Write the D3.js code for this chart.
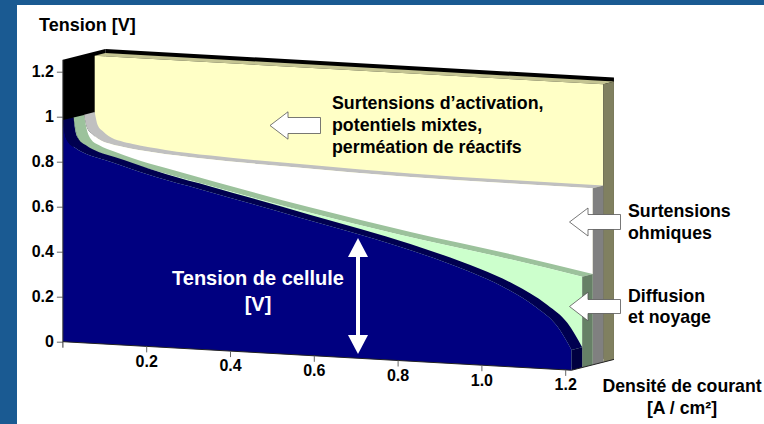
<!DOCTYPE html>
<html>
<head>
<meta charset="utf-8">
<script src="https://d3js.org/d3.v7.min.js"></script>
<style>
html, body { margin: 0; padding: 0; background: #fff; }
svg { display: block; }
text { font-family: "Liberation Sans", Arial, sans-serif; font-weight: bold; fill: #000; }
</style>
</head>
<body>
<div id="chart"></div>
<script>
// values
const xTicks = [0.2, 0.4, 0.6, 0.8, 1.0, 1.2];
const yTicks = [0, 0.2, 0.4, 0.6, 0.8, 1, 1.2];

const cellX = [0, 0.005, 0.012, 0.029, 0.06, 0.1, 0.141, 0.22, 0.327, 0.566, 0.804, 0.971, 1.05, 1.131, 1.179, 1.214];
const cellV = [0.985, 0.92, 0.89, 0.865, 0.837, 0.818, 0.797, 0.756, 0.712, 0.61, 0.506, 0.412, 0.354, 0.269, 0.194, 0.09];

const diffusionX = [0, 0.008, 0.016, 0.035, 0.075, 0.116, 0.195, 0.314, 0.541, 0.779, 1.018, 1.214];
const diffusionV = [0.984, 0.909, 0.879, 0.854, 0.827, 0.804, 0.768, 0.719, 0.629, 0.545, 0.471, 0.404];

const ohmicX = [0, 0.007, 0.019, 0.033, 0.062, 0.091, 0.169, 0.277, 0.516, 0.754, 0.993, 1.214];
const ohmicV = [0.985, 0.928, 0.902, 0.882, 0.862, 0.852, 0.834, 0.82, 0.803, 0.79, 0.786, 0.785];

const activationX = [0, 1.214];
const activationV = [1.235, 1.235];

const wallTop = 1.253;
const xEnd = 1.214;

// pseudo 3D: each layer is shifted back, the floor slopes down to the right
const depthX = 10.6;
const depthY = -2.7;
const xS = d3.scaleLinear().domain([0, 1.2]).range([62.9, 565.7]);
const yS = d3.scaleLinear().domain([0, 1.2]).range([341.7, 71.7]);
const slope = d3.scaleLinear().domain([0, 1.2]).range([0, 28.2]);

function project(x, v, layer) {
	return [xS(x) + layer * depthX, yS(v) + slope(x) + layer * depthY];
}

const line = d3.line().curve(d3.curveMonotoneX);
const svg = d3.select('#chart').append('svg').attr('width', 764).attr('height', 424);

svg.append('rect').attr('width', 764).attr('height', 424).attr('fill', '#fff');
svg.append('rect').attr('width', 764).attr('height', 5).attr('fill', '#1a5a92');
svg.append('rect').attr('width', 17).attr('height', 424).attr('fill', '#1a5a92');

function curvePts(xs, vs, layer) {
	return xs.map((x, i) => project(x, vs[i], layer));
}

function poly(pts, fill) {
	return svg.append('path')
		.attr('d', 'M' + pts.map(p => p.join(',')).join('L') + 'Z')
		.attr('fill', fill);
}

// top band, front face and right side of one layer
function drawLayer(xs, vs, layer, colors) {
	const top = curvePts(xs, vs, layer);
	const back = curvePts(xs, vs, layer + 1).reverse();
	const last = vs[vs.length - 1];

	svg.append('path')
		.attr('d', line(top) + 'L' + line(back).slice(1) + 'Z')
		.attr('fill', colors.top);

	svg.append('path')
		.attr('d', line(top) + 'L' + project(xEnd, 0, layer).join(',') + 'L' + project(0, 0, layer).join(',') + 'Z')
		.attr('fill', colors.front);

	poly([
		project(xEnd, last, layer),
		project(xEnd, last, layer + 1),
		project(xEnd, 0, layer + 1),
		project(xEnd, 0, layer)
	], colors.side);
}

// black walls behind everything
poly([project(0, 0, 0), project(0, wallTop, 0), project(0, wallTop, 4), project(0, 0, 4)], '#000');
poly([project(0, 0, 4), project(0, wallTop, 4), project(xEnd, wallTop, 4), project(xEnd, 0, 4)], '#000');

drawLayer(activationX, activationV, 3, { top: '#c4c492', front: '#ffffc6', side: '#808060' });
drawLayer(ohmicX, ohmicV, 2, { top: '#c0c0c0', front: '#ffffff', side: '#808080' });
drawLayer(diffusionX, diffusionV, 1, { top: '#9cc29c', front: '#ccffcc', side: '#668066' });
drawLayer(cellX, cellV, 0, { top: '#000050', front: '#000080', side: '#000040' });

// front bottom edge
svg.append('path')
	.attr('d', 'M' + project(0, 0, 0).join(',') + 'L' + project(xEnd, 0, 0).join(',') + 'L' + project(xEnd, 0, 4).join(','))
	.attr('fill', 'none').attr('stroke', '#222').attr('stroke-width', 1);

// axes
const yAxis = svg.append('g')
	.attr('transform', `translate(${xS(0)},0)`)
	.call(d3.axisLeft(yS).tickValues(yTicks).tickSize(6).tickPadding(3).tickFormat(d => String(d)));
yAxis.select('.domain').remove();

const xAxis = svg.append('g')
	.call(d3.axisBottom(xS).tickValues(xTicks).tickSize(6).tickPadding(3).tickFormat(d3.format('.1f')));
xAxis.select('.domain').remove();
xAxis.selectAll('.tick').attr('transform', d => `translate(${xS(d)},${yS(0) + slope(d)})`);

svg.selectAll('.tick line').attr('stroke', '#666');
svg.selectAll('.tick text').attr('font-size', 16).attr('font-family', '"Liberation Sans", Arial, sans-serif').attr('font-weight', 'bold').attr('fill', '#000');

svg.append('line')
	.attr('x1', xS(0)).attr('x2', xS(0))
	.attr('y1', yS(wallTop)).attr('y2', yS(0) + 6)
	.attr('stroke', '#333');

// labels
const labels = [
	['Tension [V]', 39, 31, 'start', 18, '#000'],
	['Surtensions d\u2019activation,', 332, 109, 'start', 17.8, '#000'],
	['potentiels mixtes,', 332, 131, 'start', 17.8, '#000'],
	['perm\u00e9ation de r\u00e9actifs', 332, 153, 'start', 17.8, '#000'],
	['Surtensions', 628, 217, 'start', 17.8, '#000'],
	['ohmiques', 628, 239, 'start', 17.8, '#000'],
	['Diffusion', 628, 302, 'start', 17.8, '#000'],
	['et noyage', 628, 323, 'start', 17.8, '#000'],
	['Densit\u00e9 de courant', 682, 392, 'middle', 17.7, '#000'],
	['[A / cm\u00b2]', 682, 414, 'middle', 17.7, '#000'],
	['Tension de cellule', 258, 285, 'middle', 20, '#fff'],
	['[V]', 258, 311, 'middle', 20, '#fff']
];
svg.selectAll('.label').data(labels).enter().append('text')
	.attr('class', 'label')
	.attr('x', d => d[1]).attr('y', d => d[2])
	.attr('text-anchor', d => d[3])
	.attr('font-size', d => d[4])
	.style('fill', d => d[5])
	.text(d => d[0]);

// block arrows pointing left
const arrows = [
	[270, 125.5, 288, 320.5, 13.7, 8],
	[569.5, 222, 588, 620.5, 14, 7.5],
	[569.5, 306.5, 588, 620.5, 14.3, 7]
];
arrows.forEach(a => {
	const [tip, cy, neck, tail, head, shaft] = a;
	poly([[tip, cy], [neck, cy - head], [neck, cy - shaft], [tail, cy - shaft], [tail, cy + shaft], [neck, cy + shaft], [neck, cy + head]], '#fff')
		.attr('stroke', '#555').attr('stroke-width', 0.8);
});

// double arrow over the cell voltage
const arrowX = 358;
svg.append('line').attr('x1', arrowX).attr('x2', arrowX).attr('y1', 250).attr('y2', 342)
	.attr('stroke', '#fff').attr('stroke-width', 4);
poly([[arrowX, 238], [arrowX + 10, 257], [arrowX - 10, 257]], '#fff');
poly([[arrowX, 354], [arrowX + 10, 335], [arrowX - 10, 335]], '#fff');
</script>
</body>
</html>
